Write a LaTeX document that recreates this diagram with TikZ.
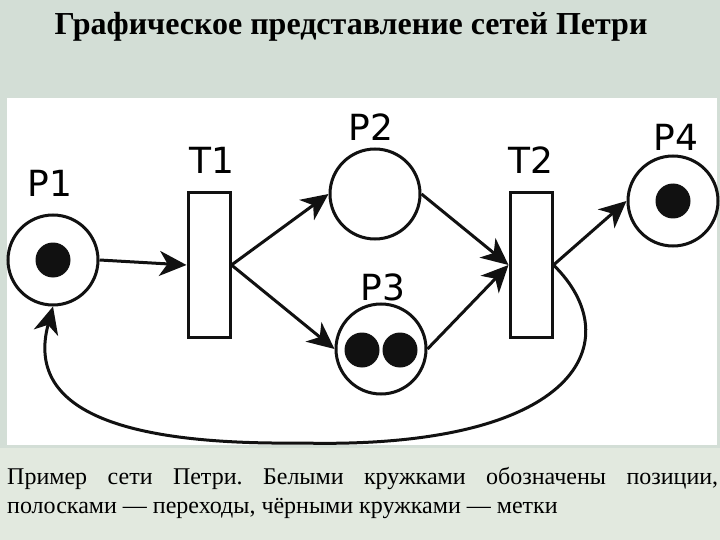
\documentclass[tikz,border=0pt]{standalone}
\usepackage{fontspec}
\setmainfont{Liberation Serif}
\newfontfamily\netfont{DejaVu Sans}
\usetikzlibrary{arrows.meta}
\definecolor{slideBack}{HTML}{D3DED6}
\definecolor{slideNote}{HTML}{E2E9DF}
\definecolor{netInk}{HTML}{111111}
\tikzset{
  place/.style={circle, draw=netInk, line width=3pt, fill=white,
    minimum size=90pt, inner sep=0pt},
  transition/.style={rectangle, draw=netInk, line width=3pt, fill=white,
    minimum width=42pt, minimum height=144pt, inner sep=0pt},
  token/.style={circle, fill=netInk, minimum size=35pt, inner sep=0pt},
  netArc/.style={-{Stealth[length=27pt, width=25pt, inset=8pt]},
    line width=3pt, netInk},
  netLabel/.style={font=\netfont\fontsize{36}{40}\selectfont, inner sep=0pt}
}
\begin{document}
\frenchspacing
\begin{tikzpicture}[x=1pt,y=-1pt]
  \fill[slideBack] (0,0) rectangle (720,540);
  \fill[slideNote] (0,448) rectangle (720,540);
  \fill[white] (7,98) rectangle (717,445);
  \useasboundingbox (0,0) rectangle (720,540);

  \node[font=\fontsize{32}{37}\selectfont\bfseries, anchor=base] (title)
    at (351,35) {Графическое представление сетей Петри};

  \node[place] (p1) at (53,260) {};
  \node[place] (p2) at (375,194) {};
  \node[place] (p3) at (381,349) {};
  \node[place] (p4) at (673,201) {};
  \node[transition] (t1) at (209,265) {};
  \node[transition] (t2) at (531,265) {};

  \node[token] (p1tok) at (p1) {};
  \node[token] (p3tokA) at (362,350) {};
  \node[token] (p3tokB) at (400,350) {};
  \node[token] (p4tok) at (p4) {};

  \node[netLabel] (p1lab) at (50,183) {P1};
  \node[netLabel] (p2lab) at (371,127) {P2};
  \node[netLabel] (p3lab) at (383,287) {P3};
  \node[netLabel] (p4lab) at (676,137) {P4};
  \node[netLabel] (t1lab) at (212,160) {T1};
  \node[netLabel] (t2lab) at (531,160) {T2};

  \draw[netArc] (p1.east) -- (t1.west);
  \draw[netArc] (t1.east) -- (p2.west);
  \draw[netArc] (t1.east) -- (p3.west);
  \draw[netArc] (p2.east) -- (t2.west);
  \draw[netArc] (p3.east) -- (t2.west);
  \draw[netArc] (t2.east) -- (p4.west);

  \coordinate (loopLow) at (300,443);
  \draw[netArc] (t2.east) .. controls (630,340) and (580,450) .. (loopLow)
    .. controls (120,445) and (25,410) .. (p1.south);

  \node[text width=711pt, align=justify, anchor=base west, inner sep=0pt,
    font=\fontsize{24}{29}\selectfont] (note) at (7,484)
    {Пример сети Петри. Белыми кружками обозначены позиции,\linebreak
     полосками~--- переходы, чёрными кружками~--- метки};
\end{tikzpicture}
\end{document}
